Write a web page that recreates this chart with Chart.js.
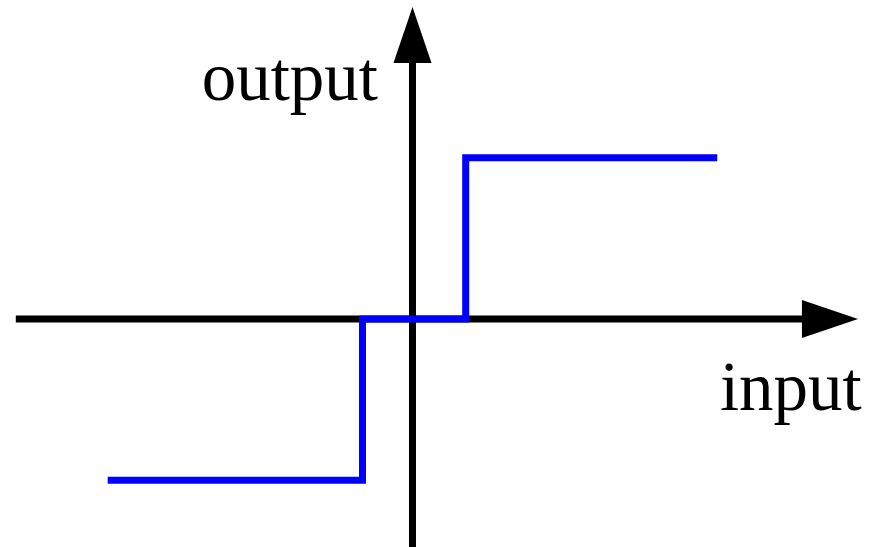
<!DOCTYPE html>
<html>
<head>
<meta charset="utf-8">
<script src="https://cdn.jsdelivr.net/npm/chart.js@4"></script>
<style>
  html, body { margin: 0; padding: 0; background: #fff; }
  #chart { display: block; }
</style>
</head>
<body>
<canvas id="chart" width="869" height="547"></canvas>
<script>
// quantizer step: input -> output
const stepInputs = [-1.89, -0.31, -0.31, 0.33, 0.33, 1.89];
const stepOutputs = [-1, -1, 0, 0, 1, 1];

// axes (with arrow heads)
const xAxisLine = [{ x: -2.46, y: 0 }, { x: 2.5, y: 0 }];
const yAxisLine = [{ x: 0, y: -1.5 }, { x: 0, y: 1.65 }];
const xArrow = [{ x: 2.415, y: 0.118 }, { x: 2.763, y: 0 }, { x: 2.415, y: -0.118 }, { x: 2.415, y: 0.118 }];
const yArrow = [{ x: -0.118, y: 1.588 }, { x: 0, y: 1.935 }, { x: 0.118, y: 1.588 }, { x: -0.118, y: 1.588 }];

const axisLabels = [
  { text: 'output', x: -0.214, y: 1.358 },
  { text: 'input', x: 2.786, y: -0.564 },
];

const X_MIN = -2.558, X_MAX = 2.831;
const Y_MIN = -1.414, Y_MAX = 1.978;

const labelPlugin = {
  id: 'labels',
  afterDatasetsDraw(chart) {
    const { ctx, scales } = chart;
    ctx.save();
    ctx.fillStyle = '#000';
    ctx.font = '69px "Liberation Serif", "Times New Roman", serif';
    ctx.textAlign = 'right';
    ctx.textBaseline = 'alphabetic';
    axisLabels.forEach((l) => {
      ctx.fillText(l.text, scales.x.getPixelForValue(l.x), scales.y.getPixelForValue(l.y));
    });
    ctx.restore();
  },
};

const ctx = document.getElementById('chart').getContext('2d');

new Chart(ctx, {
  type: 'line',
  data: {
    datasets: [
      {
        // step line on top of the axes
        data: stepInputs.map((x, i) => ({ x, y: stepOutputs[i] })),
        borderColor: '#0000ff',
        borderWidth: 7,
        borderJoinStyle: 'miter',
        pointRadius: 0,
        order: 0,
      },
      {
        data: xAxisLine,
        borderColor: '#000',
        borderWidth: 7,
        pointRadius: 0,
        order: 1,
      },
      {
        data: yAxisLine,
        borderColor: '#000',
        borderWidth: 7,
        pointRadius: 0,
        order: 1,
      },
      {
        data: xArrow,
        borderWidth: 0,
        backgroundColor: '#000',
        fill: 'shape',
        pointRadius: 0,
        order: 1,
      },
      {
        data: yArrow,
        borderWidth: 0,
        backgroundColor: '#000',
        fill: 'shape',
        pointRadius: 0,
        order: 1,
      },
    ],
  },
  options: {
    responsive: false,
    animation: false,
    layout: { padding: 0 },
    scales: {
      x: { type: 'linear', min: X_MIN, max: X_MAX, display: false },
      y: { type: 'linear', min: Y_MIN, max: Y_MAX, display: false },
    },
    plugins: {
      legend: { display: false },
      tooltip: { enabled: false },
    },
  },
  plugins: [labelPlugin],
});
</script>
</body>
</html>
